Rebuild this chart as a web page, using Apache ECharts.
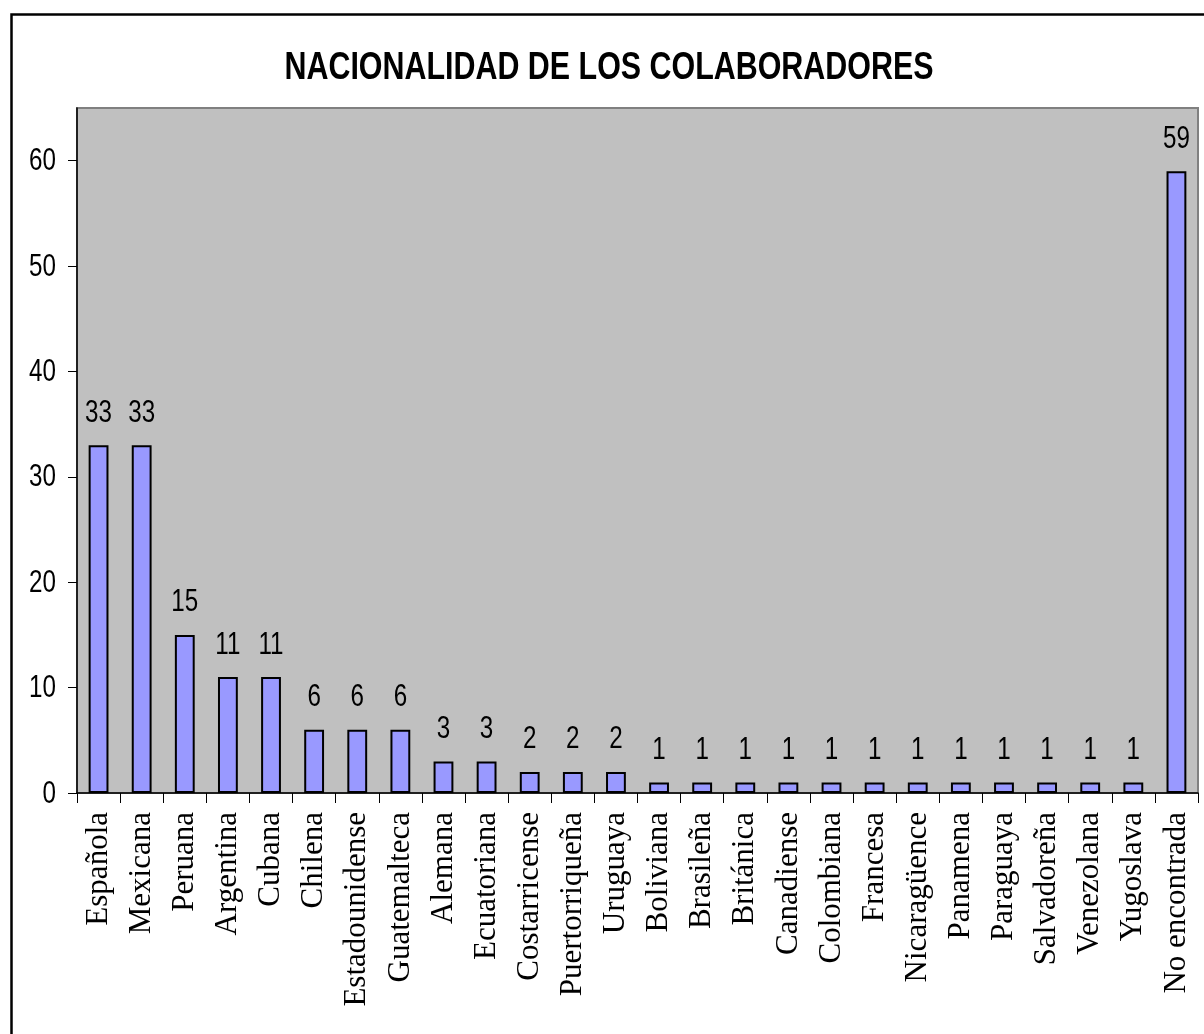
<!DOCTYPE html>
<html>
<head>
<meta charset="utf-8">
<script src="https://cdn.jsdelivr.net/npm/echarts@6/dist/echarts.min.js"></script>
<style>
    html, body { margin: 0; padding: 0; background: #fff; }
    #chart { width: 1204px; height: 1034px; }
</style>
</head>
<body>
<div id="chart"></div>
<script type="text/javascript">
// datos
const categorias = ["Española", "Mexicana", "Peruana", "Argentina", "Cubana", "Chilena",
    "Estadounidense", "Guatemalteca", "Alemana", "Ecuatoriana", "Costarricense",
    "Puertorriqueña", "Uruguaya", "Boliviana", "Brasileña", "Británica", "Canadiense",
    "Colombiana", "Francesa", "Nicaragüence", "Panamena", "Paraguaya", "Salvadoreña",
    "Venezolana", "Yugoslava", "No encontrada"];
const colaboradores = [33, 33, 15, 11, 11, 6, 6, 6, 3, 3, 2, 2, 2, 1, 1, 1, 1, 1, 1, 1, 1, 1, 1, 1, 1, 59];
const yTicks = [0, 10, 20, 30, 40, 50, 60];

const sans = "'Liberation Sans', Arial, sans-serif";
const serif = "'Liberation Serif', 'Times New Roman', serif";
const NARROW = 0.78; // el original usa Arial Narrow, se estrecha Liberation Sans

const chart = echarts.init(document.getElementById("chart"));
chart.setOption({
    animation: false,
    backgroundColor: "#fff",
    graphic: [{//marco exterior
        type: "rect",
        left: 9, top: 12,
        shape: { width: 1210, height: 1040 },
        style: { fill: "none", stroke: "#000", lineWidth: 2.5 },
        silent: true
    }, {//titulo
        type: "text",
        x: 609, y: 68,
        scaleX: NARROW,
        style: {
            text: "NACIONALIDAD DE LOS COLABORADORES",
            fontFamily: sans, fontWeight: "bold", fontSize: 39,
            fill: "#000", align: "center", verticalAlign: "middle"
        },
        silent: true
    }],
    grid: {
        left: 77,
        right: 6,
        top: 108,
        bottom: 241,
        show: true,
        backgroundColor: "#C0C0C0",
        borderColor: "#808080",
        borderWidth: 2
    },
    xAxis: {
        type: "category",
        data: categorias,
        axisLine: { lineStyle: { color: "#000", width: 1.5 } },
        axisTick: { show: true, length: 10, lineStyle: { color: "#000", width: 1 } },
        axisLabel: {
            interval: 0,
            rotate: 90,
            margin: 19,
            fontFamily: serif,
            fontSize: 31,
            color: "#000"
        },
        splitLine: { show: false }
    },
    yAxis: {
        type: "value",
        min: 0,
        max: 65,
        interval: 10,
        axisLine: { show: true, lineStyle: { color: "#000", width: 1.5 } },
        axisTick: { show: true, length: 9, customValues: yTicks, lineStyle: { color: "#000" } },
        axisLabel: { show: false },
        splitLine: { show: false }
    },
    series: [{
        type: "bar",
        data: colaboradores,
        barWidth: "46%",
        itemStyle: { color: "#9999FF", borderColor: "#000", borderWidth: 2 }
    }, {//etiquetas de valor (estrechas)
        type: "custom",
        silent: true,
        clip: false,
        z: 5,
        data: colaboradores.map((v, i) => [i, v]),
        renderItem(params, api) {
            const p = api.coord([api.value(0), api.value(1)]);
            return {
                type: "text",
                x: p[0], y: p[1] - 32,
                scaleX: NARROW,
                style: {
                    text: String(api.value(1)),
                    fontFamily: sans, fontSize: 31, fill: "#000",
                    align: "center", verticalAlign: "middle"
                }
            };
        }
    }, {//numeros del eje Y (estrechos)
        type: "custom",
        silent: true,
        clip: false,
        z: 5,
        data: yTicks.map(v => [0, v]),
        renderItem(params, api) {
            const p = api.coord([0, api.value(1)]);
            return {
                type: "text",
                x: params.coordSys.x - 21, y: p[1] + 1,
                scaleX: NARROW,
                style: {
                    text: String(api.value(1)),
                    fontFamily: sans, fontSize: 31, fill: "#000",
                    align: "right", verticalAlign: "middle"
                }
            };
        }
    }]
});
</script>
</body>
</html>
